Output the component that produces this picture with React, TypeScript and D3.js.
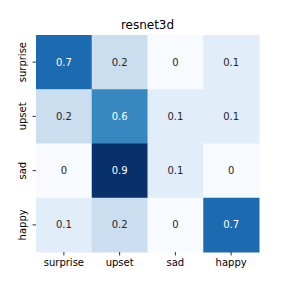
import React from "react";
import * as d3 from "d3";

const title = "resnet3d";
const labels = ["surprise", "upset", "sad", "happy"];
const rowSurprise = [0.7, 0.2, 0, 0.1];
const rowUpset = [0.2, 0.6, 0.1, 0.1];
const rowSad = [0, 0.9, 0.1, 0];
const rowHappy = [0.1, 0.2, 0, 0.7];
const matrix = [rowSurprise, rowUpset, rowSad, rowHappy];

const W = 288, H = 288;
const left = 36, right = 259, top = 35, bottom = 252;
const font = "DejaVu Sans, sans-serif";

export default function App() {
  const x = d3.scaleBand().domain(labels).range([left, right]);
  const y = d3.scaleBand().domain(labels).range([top, bottom]);
  const maxV = d3.max(matrix.flat()) as number;
  const color = d3.scaleSequential(d3.interpolateBlues).domain([0, maxV]);
  const txtColor = (v: number) => {
    const c = d3.rgb(color(v));
    const lum = (ch: number) => {
      const s = ch / 255;
      return s <= 0.03928 ? s / 12.92 : Math.pow((s + 0.055) / 1.055, 2.4);
    };
    const L = 0.2126 * lum(c.r) + 0.7152 * lum(c.g) + 0.0722 * lum(c.b);
    return L < 0.408 ? "#ffffff" : "#262626";
  };
  return (
    <svg width={W} height={H} style={{ position: "absolute", left: 0, top: 0 }}>
      <rect x={0} y={0} width={W} height={H} fill="#ffffff" />
      <text x={(left + right) / 2} y={29} textAnchor="middle" fontFamily={font} fontSize={12} fill="#000">
        {title}
      </text>
      {matrix.map((row, i) =>
        row.map((v, j) => (
          <g key={`${i}-${j}`}>
            <rect
              x={x(labels[j])}
              y={y(labels[i])}
              width={x.bandwidth() + 0.5}
              height={y.bandwidth() + 0.5}
              fill={color(v)}
            />
            <text
              x={(x(labels[j]) as number) + x.bandwidth() / 2}
              y={(y(labels[i]) as number) + y.bandwidth() / 2}
              dy="0.35em"
              textAnchor="middle"
              fontFamily={font}
              fontSize={10}
              fill={txtColor(v)}
            >
              {String(v)}
            </text>
          </g>
        ))
      )}
      {labels.map((l) => {
        const cx = (x(l) as number) + x.bandwidth() / 2;
        return (
          <g key={`x-${l}`}>
            <line x1={cx} x2={cx} y1={bottom} y2={bottom + 3.5} stroke="#000" strokeWidth={0.8} />
            <text x={cx} y={bottom + 6} dy="0.75em" textAnchor="middle" fontFamily={font} fontSize={10} fill="#000">
              {l}
            </text>
          </g>
        );
      })}
      {labels.map((l) => {
        const cy = (y(l) as number) + y.bandwidth() / 2;
        return (
          <g key={`y-${l}`}>
            <line x1={left - 3.5} x2={left} y1={cy} y2={cy} stroke="#000" strokeWidth={0.8} />
            <text
              transform={`translate(${left - 10},${cy}) rotate(-90)`}
              textAnchor="middle"
              fontFamily={font}
              fontSize={10}
              fill="#000"
            >
              {l}
            </text>
          </g>
        );
      })}
    </svg>
  );
}
